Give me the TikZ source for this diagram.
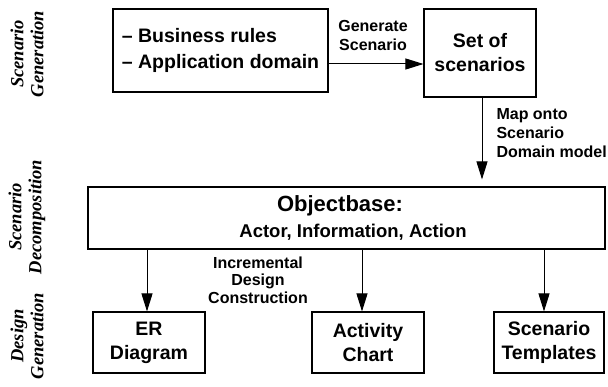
\documentclass[tikz,border=0pt]{standalone}
\usepackage{fontspec}
\setmainfont{Liberation Sans}
\newfontfamily\phasefont{Liberation Serif}
\usetikzlibrary{arrows.meta}

\begin{document}
\begin{tikzpicture}[x=1pt, y=-1pt,
  font=\bfseries,
  box/.style={draw, line width=1.1pt, inner sep=0pt, align=center,
    font=\fontsize{19.5}{24}\selectfont\bfseries},
  arr/.style={-{Triangle[length=18pt,width=11pt]}, line width=1pt},
  lbl/.style={font=\fontsize{16}{19}\selectfont\bfseries},
  phase/.style={rotate=90, align=center,
    font=\phasefont\fontsize{18.5}{20}\selectfont\bfseries\itshape}]

  % canvas
  \useasboundingbox (0,0) rectangle (608,387);

  % phase captions on the left
  \node[phase] (p1) at (27,54) {Scenario\\Generation};
  \node[phase] (p2) at (27,217) {Scenario\\Decomposition};
  \node[phase] (p3) at (27,336) {Design\\Generation};

  % scenario generation
  \node[box, minimum width=215pt, minimum height=83pt, align=left,
    font=\fontsize{19.5}{26}\selectfont\bfseries] (biz) at (220.5,50.5)
    {– Business rules\\– Application domain};
  \node[box, minimum width=112pt, minimum height=88pt] (sos) at (480,53)
    {Set of\\scenarios};
  \draw[arr] ([yshift=-13.5pt]biz.east) -- ([yshift=-13.5pt]biz.east -| sos.west);
  \node[lbl, align=center] (gen) at (373,35) {Generate\\Scenario};

  % objectbase
  \node[box, minimum width=517pt, minimum height=62pt,
    font=\fontsize{22}{26}\selectfont\bfseries] (ob) at (346.5,218)
    {Objectbase:\hspace*{13pt}\\{\fontsize{18.5}{26}\selectfont\hspace*{13pt}Actor, Information, Action}};
  \draw[arr, shorten >=7pt] ([xshift=2pt]sos.south) -- ([xshift=2pt]sos.south |- ob.north);
  \node[lbl, align=left, anchor=west] (map) at (493,133)
    {Map onto\\Scenario\\Domain model};

  % design generation
  \node[box, minimum width=112pt, minimum height=61pt] (er) at (149,342.5)
    {ER\\Diagram};
  \node[box, minimum width=112pt, minimum height=61pt] (act) at (368,342.5)
    {Activity\\Chart};
  \node[box, minimum width=110pt, minimum height=61pt] (tpl) at (549,342.5)
    {Scenario\\Templates};
  \draw[arr] ([xshift=-2pt]er.north |- ob.south) -- ([xshift=-2pt]er.north);
  \draw[arr] ([xshift=-6pt]act.north |- ob.south) -- ([xshift=-6pt]act.north);
  \draw[arr] ([xshift=-5pt]tpl.north |- ob.south) -- ([xshift=-5pt]tpl.north);
  \node[lbl, align=center, font=\fontsize{16}{17.5}\selectfont\bfseries] (inc)
    at (258,280) {Incremental\\Design\\Construction};
\end{tikzpicture}
\end{document}
